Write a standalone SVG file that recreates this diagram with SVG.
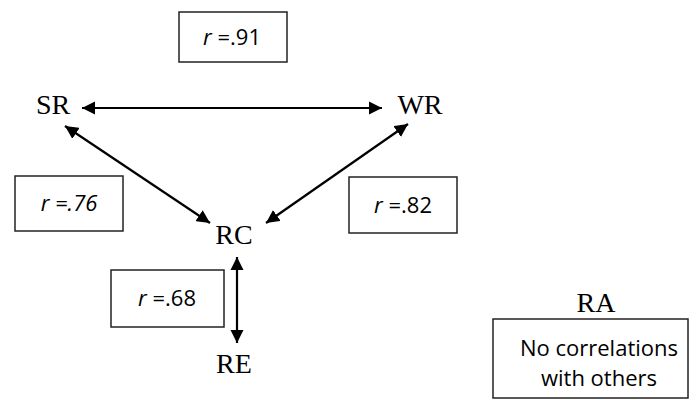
<svg xmlns="http://www.w3.org/2000/svg" width="696" height="400" viewBox="0 0 696 400">
<defs>
<marker id="ah" viewBox="0 0 10 10" refX="10" refY="5" markerWidth="6" markerHeight="6" orient="auto-start-reverse" markerUnits="strokeWidth">
<path d="M0,0 L10,5 L0,10 z" fill="#000"/>
</marker>
<style>
.node{font-family:"Liberation Serif","Times New Roman",serif;font-size:28px;fill:#000;text-anchor:middle}
.box{fill:#fff;stroke:#222;stroke-width:1.5}
.lbl{font-family:"Open Sans","Noto Sans",sans-serif;font-size:22px;fill:#000;text-anchor:middle}
.conn{stroke:#000;stroke-width:2.2;fill:none;marker-start:url(#ah);marker-end:url(#ah)}
</style>
</defs>
<rect width="696" height="400" fill="#fff"/>
<g id="connectors">
<line class="conn" x1="82" y1="108" x2="382" y2="108"/>
<line class="conn" x1="65" y1="126" x2="210" y2="223"/>
<line class="conn" x1="408" y1="124" x2="266" y2="223"/>
<line class="conn" x1="237" y1="257" x2="237" y2="343"/>
</g>
<g id="label-91">
<rect class="box" x="179" y="12" width="108" height="50"/>
<text class="lbl" x="232" y="45"><tspan font-style="italic">r</tspan> =.91</text>
</g>
<g id="label-76">
<rect class="box" x="15" y="176" width="108" height="55"/>
<text class="lbl" x="69" y="211" font-style="italic">r =.76</text>
</g>
<g id="label-82">
<rect class="box" x="349" y="177" width="108" height="56"/>
<text class="lbl" x="403" y="213"><tspan font-style="italic">r</tspan> =.82</text>
</g>
<g id="label-68">
<rect class="box" x="111" y="270" width="113" height="57"/>
<text class="lbl" x="167" y="306"><tspan font-style="italic">r</tspan> =.68</text>
</g>
<g id="node-SR"><text class="node" x="53" y="114">SR</text></g>
<g id="node-WR"><text class="node" x="420" y="114">WR</text></g>
<g id="node-RC"><text class="node" x="234" y="244">RC</text></g>
<g id="node-RE"><text class="node" x="234" y="373">RE</text></g>
<g id="node-RA">
<text class="node" x="596" y="312">RA</text>
<rect class="box" x="493" y="319" width="195" height="79"/>
<text class="lbl" x="599" y="356" font-size="23">No correlations</text>
<text class="lbl" x="599" y="386" font-size="23">with others</text>
</g>
</svg>
